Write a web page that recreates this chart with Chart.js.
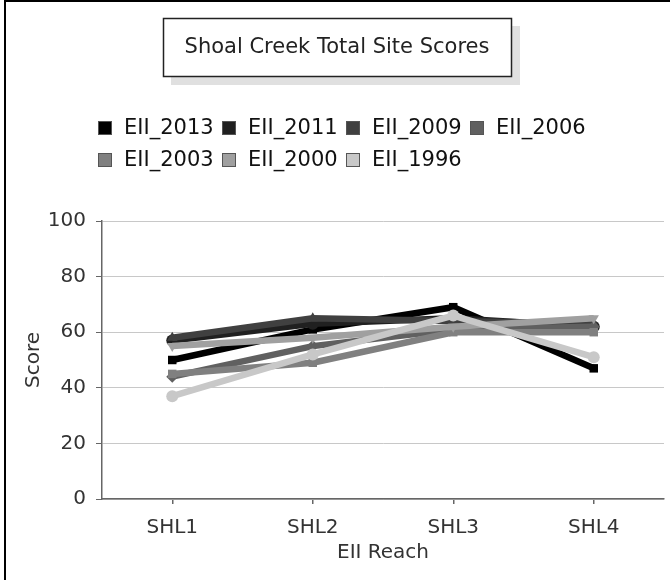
<!DOCTYPE html>
<html>
<head>
<meta charset="utf-8">
<script src="https://cdn.jsdelivr.net/npm/chart.js@4.4.1/dist/chart.umd.min.js"></script>
<style>
  html, body { margin: 0; padding: 0; background: #fff; }
  #wrap { position: relative; width: 670px; height: 580px; }
</style>
</head>
<body>
<div id="wrap"><canvas id="chart" width="670" height="580"></canvas></div>
<script>
// Shoal Creek EII total site scores.
var reaches  = ['SHL1', 'SHL2', 'SHL3', 'SHL4'];
var yTicks   = [0, 20, 40, 60, 80, 100];
var years    = ['EII_2013', 'EII_2011', 'EII_2009', 'EII_2006', 'EII_2003', 'EII_2000', 'EII_1996'];
var eii2013  = [50, 61, 69, 47];
var eii2011  = [57, 63, 65, 62];
var eii2009  = [58, 65, 64, 63];
var eii2006  = [44, 55, 61, 62];
var eii2003  = [45, 49, 60, 60];
var eii2000  = [55, 58, 62, 65];
var eii1996  = [37, 52, 66, 51];
var greys    = ['#000000', '#202020', '#404040', '#606060', '#808080', '#a0a0a0', '#c8c8c8'];
var shapes   = ['rect', 'circle', 'triangle', 'rectRot', 'rect', 'triangle', 'circle'];

var series = [eii2013, eii2011, eii2009, eii2006, eii2003, eii2000, eii1996];

var FONT = 'DejaVu Sans';
Chart.defaults.font.family = FONT;
Chart.defaults.font.size = 20;
Chart.defaults.color = '#333';

// later years are painted over earlier ones, as in the original
var datasets = series.map(function (vals, i) {
  return {
    label: years[i],
    data: vals,
    order: series.length - 1 - i,
    borderColor: greys[i],
    backgroundColor: greys[i],
    borderWidth: 6.5,
    pointStyle: shapes[i],
    pointRadius: 6,
    pointRotation: i === 5 ? 180 : 0,
    pointBorderWidth: 0,
    tension: 0,
  };
});

// Boxed title with drop shadow, wrapped legend and frame, drawn around the plot.
var decor = {
  id: 'decor',
  beforeDraw: function (chart) {
    var ctx = chart.ctx;
    ctx.save();
    ctx.fillStyle = '#fff';
    ctx.fillRect(0, 0, chart.width, chart.height);

    // frame
    ctx.strokeStyle = '#000';
    ctx.lineWidth = 2;
    ctx.beginPath();
    ctx.moveTo(5, chart.height);
    ctx.lineTo(5, 1);
    ctx.lineTo(chart.width, 1);
    ctx.stroke();

    // title box
    ctx.fillStyle = '#e0e0e0';
    ctx.fillRect(171, 26, 349, 59);
    ctx.fillStyle = '#fff';
    ctx.fillRect(163, 18, 349, 59);
    ctx.strokeStyle = '#222';
    ctx.lineWidth = 1.5;
    ctx.strokeRect(163.5, 18.5, 348, 58);
    ctx.fillStyle = '#222';
    ctx.font = '21px ' + FONT;
    ctx.textAlign = 'center';
    ctx.textBaseline = 'middle';
    ctx.fillText('Shoal Creek Total Site Scores', 337, 48);

    // legend, four items per row
    ctx.textAlign = 'left';
    chart.data.datasets.forEach(function (ds, i) {
      var x = 98 + (i % 4) * 124;
      var y = i < 4 ? 128 : 160;
      ctx.fillStyle = ds.borderColor;
      ctx.fillRect(x, y - 7, 14, 14);
      ctx.strokeStyle = '#555';
      ctx.lineWidth = 1;
      ctx.strokeRect(x + 0.5, y - 6.5, 13, 13);
      ctx.fillStyle = '#111';
      ctx.fillText(ds.label, x + 26, y + 1);
    });
    ctx.restore();
  }
};

new Chart(document.getElementById('chart'), {
  type: 'line',
  data: { labels: reaches, datasets: datasets },
  options: {
    responsive: false,
    animation: false,
    devicePixelRatio: 1,
    layout: { padding: { top: 221, right: 6, left: 0, bottom: 0 } },
    plugins: {
      legend: { display: false },
      title: { display: false },
      tooltip: { enabled: false }
    },
    scales: {
      x: {
        offset: true,
        grid: { drawOnChartArea: false, drawTicks: true, tickLength: 5, tickColor: '#666', lineWidth: 1.5 },
        border: { color: '#666', width: 1.5 },
        ticks: { padding: 12 },
        title: { display: true, text: 'EII Reach', padding: { top: 0, bottom: 15 } },
        afterFit: function (scale) { scale.height = 81; }
      },
      y: {
        min: 0,
        max: 100,
        afterBuildTicks: function (scale) {
          scale.ticks = yTicks.map(function (v) { return { value: v }; });
        },
        grid: { color: '#c8c8c8', lineWidth: 1, drawTicks: true, tickLength: 6, tickColor: '#666' },
        border: { color: '#666', width: 1.5 },
        ticks: { padding: 10 },
        title: { display: true, text: 'Score', padding: { top: 22, bottom: 0 } },
        afterFit: function (scale) { scale.width = 102; }
      }
    }
  },
  plugins: [decor]
});
</script>
</body>
</html>
